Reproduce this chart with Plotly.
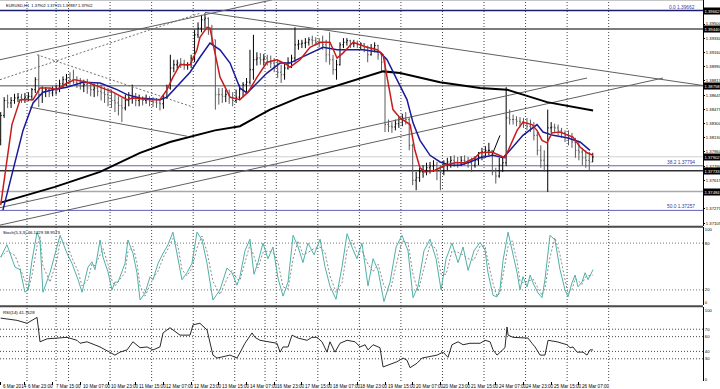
import plotly.graph_objects as go

# ---------------- data (hour index from 6 Mar 07:00, EURUSD H1) ----------------
bar_time = list(range(2, 346, 2))  # one bar per 2 hours
bar_high = [1.3844,1.3862,1.3865,1.3862,1.3866,1.3867,1.3866,1.3867,1.3868,1.3873,
            1.3886,1.3913,1.3875,1.3874,1.3873,1.3875,1.3877,1.3883,1.3887,1.3890,
            1.3892,1.3895,1.3887,1.3885,1.3883,1.3884,1.3880,1.3878,1.3879,1.3877,
            1.3874,1.3873,1.3871,1.3867,1.3863,1.3861,1.3865,1.3868,1.3877,1.3867,
            1.3865,1.3863,1.3865,1.3863,1.3862,1.3861,1.3860,1.3865,1.3877,1.3913,
            1.3907,1.3907,1.3909,1.3907,1.3904,1.3913,1.3943,1.3952,1.3961,1.3963,
            1.3958,1.3949,1.3931,1.3873,1.3873,1.3871,1.3871,1.3868,1.3871,1.3877,
            1.3880,1.3885,1.3919,1.3937,1.3916,1.3915,1.3914,1.3913,1.3912,1.3909,
            1.3907,1.3901,1.3904,1.3910,1.3913,1.3946,1.3931,1.3931,1.3933,1.3934,
            1.3936,1.3934,1.3933,1.3936,1.3931,1.3940,1.3913,1.3907,1.3928,1.3933,
            1.3933,1.3931,1.3931,1.3930,1.3928,1.3927,1.3924,1.3926,1.3928,1.3925,
            1.3916,1.3910,1.3835,1.3832,1.3835,1.3838,1.3842,1.3844,1.3837,1.3806,
            1.3772,1.3777,1.3780,1.3783,1.3784,1.3786,1.3784,1.3780,1.3786,1.3789,
            1.3791,1.3792,1.3790,1.3791,1.3792,1.3790,1.3789,1.3791,1.3796,1.3801,
            1.3803,1.3807,1.3798,1.3777,1.3789,1.3789,1.3874,1.3847,1.3841,1.3839,
            1.3838,1.3837,1.3837,1.3835,1.3832,1.3820,1.3804,1.3798,1.3847,1.3832,
            1.3830,1.3829,1.3825,1.3822,1.3822,1.3819,1.3813,1.3808,1.3801,1.3798,
            1.3796,1.3795]
bar_low = [1.3804,1.3837,1.3849,1.3849,1.3854,1.3856,1.3855,1.3855,1.3857,1.3858,
           1.3867,1.3850,1.3855,1.3862,1.3862,1.3863,1.3865,1.3868,1.3873,1.3875,
           1.3877,1.3878,1.3873,1.3871,1.3868,1.3866,1.3863,1.3862,1.3863,1.3858,
           1.3855,1.3851,1.3849,1.3844,1.3840,1.3832,1.3846,1.3851,1.3854,1.3851,
           1.3851,1.3852,1.3854,1.3851,1.3850,1.3849,1.3846,1.3848,1.3860,1.3871,
           1.3892,1.3895,1.3897,1.3895,1.3895,1.3897,1.3904,1.3933,1.3940,1.3945,
           1.3937,1.3925,1.3847,1.3853,1.3855,1.3856,1.3854,1.3851,1.3855,1.3858,
           1.3862,1.3867,1.3877,1.3883,1.3900,1.3901,1.3900,1.3900,1.3897,1.3892,
           1.3885,1.3879,1.3883,1.3895,1.3897,1.3904,1.3919,1.3921,1.3921,1.3924,
           1.3925,1.3924,1.3922,1.3919,1.3904,1.3901,1.3889,1.3883,1.3900,1.3921,
           1.3924,1.3921,1.3922,1.3921,1.3919,1.3916,1.3904,1.3912,1.3916,1.3907,
           1.3892,1.3820,1.3820,1.3819,1.3822,1.3825,1.3827,1.3829,1.3798,1.3756,
           1.3750,1.3760,1.3765,1.3768,1.3770,1.3772,1.3762,1.3750,1.3768,1.3774,
           1.3777,1.3778,1.3777,1.3779,1.3780,1.3777,1.3772,1.3777,1.3780,1.3786,
           1.3789,1.3792,1.3768,1.3758,1.3765,1.3772,1.3779,1.3829,1.3829,1.3827,
           1.3826,1.3825,1.3822,1.3820,1.3810,1.3792,1.3777,1.3772,1.3748,1.3819,
           1.3819,1.3816,1.3813,1.3808,1.3804,1.3801,1.3789,1.3786,1.3780,1.3777,
           1.3774,1.3784]
bar_close = [1.3840,1.3858,1.3855,1.3858,1.3861,1.3862,1.3860,1.3862,1.3863,1.3871,
             1.3883,1.3865,1.3868,1.3871,1.3867,1.3871,1.3873,1.3878,1.3883,1.3885,
             1.3883,1.3880,1.3878,1.3875,1.3877,1.3873,1.3871,1.3873,1.3869,1.3867,
             1.3865,1.3861,1.3858,1.3855,1.3852,1.3849,1.3858,1.3861,1.3862,1.3858,
             1.3860,1.3858,1.3860,1.3857,1.3856,1.3855,1.3854,1.3862,1.3873,1.3897,
             1.3901,1.3903,1.3902,1.3900,1.3901,1.3909,1.3937,1.3945,1.3955,1.3957,
             1.3945,1.3931,1.3865,1.3865,1.3863,1.3865,1.3861,1.3858,1.3862,1.3871,
             1.3877,1.3880,1.3895,1.3907,1.3909,1.3907,1.3909,1.3904,1.3903,1.3900,
             1.3892,1.3889,1.3897,1.3904,1.3909,1.3925,1.3926,1.3927,1.3928,1.3931,
             1.3930,1.3928,1.3927,1.3925,1.3913,1.3907,1.3895,1.3901,1.3925,1.3928,
             1.3930,1.3926,1.3927,1.3925,1.3926,1.3922,1.3913,1.3921,1.3924,1.3913,
             1.3904,1.3829,1.3827,1.3826,1.3830,1.3835,1.3837,1.3835,1.3804,1.3762,
             1.3765,1.3772,1.3774,1.3777,1.3779,1.3780,1.3774,1.3772,1.3780,1.3784,
             1.3786,1.3784,1.3783,1.3786,1.3785,1.3783,1.3780,1.3786,1.3790,1.3796,
             1.3798,1.3798,1.3772,1.3767,1.3780,1.3783,1.3837,1.3835,1.3835,1.3833,
             1.3832,1.3830,1.3827,1.3826,1.3816,1.3798,1.3786,1.3780,1.3825,1.3826,
             1.3825,1.3822,1.3819,1.3816,1.3813,1.3808,1.3798,1.3796,1.3789,1.3786,
             1.3784,1.3790]
first_open = 1.3810

red_t = [2,8.5,13.2,20.7,24.7,30.5,34.5,40.3,44.9,51.9,
         59.4,66.9,75.0,78.4,88.3,94.0,98.1,101.5,105.6,111.4,
         115.4,117.1,121.2,122.9,124.6,128.7,134.5,140.2,144.9,150.1,
         155.8,161.6,167.4,169.1,174.9,180.7,186.5,192.2,196.3,199.7,
         205.5,213.6,219.4,222.9,225.2,228.6,232.7,238.5,241.3,244.2,
         247.1,252.9,258.7,264.5,270.2,276.0,278.9,285.8,293.3,296.2,
         300.3,303.7,308.9,311.8,314.7,317.6,320.5,325.1,332.6,336.7,
         340.7,344.2]
red_v = [1.3732,1.3829,1.3859,1.3859,1.3873,1.3873,1.3871,1.3879,1.3883,1.3880,
         1.3874,1.3868,1.3859,1.3861,1.3859,1.3859,1.3871,1.3886,1.3901,1.3901,
         1.3919,1.3934,1.3946,1.3945,1.3927,1.3886,1.3862,1.3859,1.3868,1.3886,
         1.3904,1.3907,1.3901,1.3898,1.3907,1.3922,1.3928,1.3928,1.3909,1.3915,
         1.3928,1.3922,1.3919,1.3913,1.3886,1.3847,1.3837,1.3829,1.3798,1.3777,
         1.3772,1.3774,1.3780,1.3783,1.3783,1.3789,1.3795,1.3796,1.3789,1.3802,
         1.3822,1.3832,1.3829,1.3822,1.3810,1.3807,1.3819,1.3820,1.3814,1.3802,
         1.3795,1.3792]
blue_t = [3.3,14.9,20.7,26.4,32.2,40.3,49.5,59.4,69.2,75.0,
          82.5,94.0,98.1,105.6,111.4,117.1,122.9,128.7,134.5,140.2,
          144.3,150.1,155.8,163.4,169.1,174.9,180.7,188.2,196.3,203.8,
          211.3,221.1,225.2,230.9,236.7,240.2,244.2,250.0,255.8,261.6,
          267.3,273.1,278.9,286.4,292.2,296.2,303.7,311.8,315.3,321.1,
          329.1,336.7,342.4]
blue_v = [1.3726,1.3822,1.3855,1.3868,1.3871,1.3874,1.3880,1.3879,1.3871,1.3865,
          1.3861,1.3859,1.3862,1.3879,1.3892,1.3910,1.3927,1.3919,1.3903,1.3873,
          1.3867,1.3879,1.3891,1.3903,1.3903,1.3909,1.3915,1.3922,1.3919,1.3919,
          1.3919,1.3916,1.3907,1.3883,1.3859,1.3831,1.3810,1.3792,1.3784,1.3780,
          1.3780,1.3784,1.3789,1.3792,1.3789,1.3798,1.3816,1.3829,1.3820,1.3816,
          1.3813,1.3808,1.3798]
ma200_t = [2,17.2,33.4,59.4,82.5,99.8,113.1,125.8,140.2,157.6,
           174.9,198.0,222.9,232.7,255.8,278.9,294.5,303.7,317.6,344.2]
ma200_v = [1.3735,1.3744,1.3754,1.3772,1.3795,1.3808,1.3815,1.3822,1.3827,1.3847,
           1.3862,1.3877,1.3893,1.3891,1.3880,1.3873,1.3871,1.3865,1.3856,1.3846]

stoch_t = [2,5.6,10.3,13.2,16.0,17.8,20.1,23.0,24.7,26.4,
           30.5,34.5,36.3,40.3,43.2,46.7,49.0,52.4,54.7,56.5,
           59.4,61.1,64.0,66.3,68.0,69.8,73.8,75.5,78.4,80.7,
           82.5,85.4,88.3,90.0,92.9,95.8,98.7,101.5,104.4,106.7,
           109.6,112.5,115.4,118.3,121.2,124.6,128.7,132.7,135.6,138.5,
           140.2,
           143.1,146.0,148.3,150.6,153.5,156.4,159.3,162.2,165.1,168.0,
           170.9,173.8,176.6,179.5,183.0,186.5,189.3,192.2,195.7,199.2,
           202.1,204.9,207.8,210.7,214.2,217.1,220.0,223.4,226.9,230.4,
           233.8,237.3,240.2,243.1,246.5,250.0,253.5,256.4,259.3,262.7,
           266.2,269.1,272.0,275.4,
           278.9,281.8,283.5,286.4,288.7,290.4,292.2,295.1,297.4,300.3,
           302.0,303.7,306.1,307.8,309.5,312.4,314.7,316.4,319.3,322.2,
           325.1,328.0,329.7,332.0,333.8,335.5,337.8,339.6,341.3,344.2]
stoch_k = [62,78,49,46,17,20,58,94,84,17,
           42,74,90,67,54,33,17,49,56,46,
           84,62,43,20,30,30,54,84,67,42,
           7,16,37,33,54,67,78,94,58,33,
           42,54,94,84,54,7,20,48,42,26,
           37,
           70,85,40,55,80,60,75,35,12,30,
           90,75,55,80,65,85,50,25,8,50,
           92,75,60,80,25,60,45,5,30,75,
           90,70,10,25,70,85,60,20,60,80,
           55,75,45,70,
           81,71,42,13,11,20,58,94,71,42,
           20,37,24,39,29,16,10,33,90,84,
           46,20,11,29,39,24,30,42,33,46]
stoch_d = [62,70,64,48,32,19,39,76,89,51,
           30,58,82,79,61,44,25,33,53,51,
           65,73,53,32,25,30,42,69,76,55,
           25,12,27,35,44,61,73,86,76,46,
           38,48,74,89,69,31,14,34,45,34,
           32,
           54,78,63,48,68,70,68,55,24,21,
           60,83,65,68,73,75,68,38,17,29,
           71,84,68,70,53,43,53,25,18,53,
           83,80,40,18,48,78,73,40,40,70,
           68,65,60,58,
           76,76,57,28,12,16,39,76,83,57,
           31,29,31,32,34,23,13,22,62,87,
           65,33,16,20,34,32,27,36,38,39]

rsi_t = [2,11.4,17.2,23.0,24.7,28.8,40.3,46.1,47.8,51.9,
         59.4,65.1,68.0,70.9,75.0,78.4,82.5,86.5,90.0,94.0,
         95.8,99.8,105.6,111.4,113.1,117.1,121.2,124.6,127.0,134.5,
         138.5,140.2,143.1,147.2,148.9,151.8,157.6,161.6,163.4,165.1,
         168.0,170.3,173.8,179.0,181.8,184.7,187.6,190.5,192.2,195.1,
         198.0,202.1,206.7,209.6,212.5,214.2,217.1,221.1,222.9,226.9,
         230.9,234.4,236.7,238.5,242.5,245.4,248.3,254.1,257.5,260.4,
         262.7,266.2,269.1,273.1,278.9,281.8,284.7,286.4,288.7,290.4,
         293.3,294.5,295.1,298.0,303.7,306.6,308.9,310.7,313.6,316.4,
         318.2,323.4,329.1,330.9,332.6,334.9,338.4,340.7,342.4,344.2]
rsi_v = [85,82,78,86,53,57,59,55,51,53,
         46,39,35,39,42,53,45,46,42,46,
         65,72,62,62,76,78,69,35,31,35,
         31,38,51,65,59,55,53,51,39,46,
         46,62,58,55,59,59,53,39,53,39,
         51,55,53,46,49,42,49,45,19,22,
         26,31,28,18,24,31,32,35,39,32,
         49,53,49,51,51,55,53,42,35,39,
         45,73,62,59,59,58,51,46,35,35,
         55,53,49,45,46,39,39,35,42,42]

date_ticks = [1.7,16,32,48,64,80,96,112,128,144,160,176,192,208,224,240,256,272,288,304,320,336]
date_labels = ["6 Mar 2014","6 Mar 23:00","7 Mar 15:00","10 Mar 07:00","10 Mar 23:00","11 Mar 15:00",
               "12 Mar 07:00","12 Mar 23:00","13 Mar 15:00","14 Mar 07:00","16 Mar 23:00","17 Mar 15:00",
               "18 Mar 07:00","18 Mar 23:00","19 Mar 15:00","20 Mar 07:00","20 Mar 23:00","21 Mar 15:00",
               "24 Mar 07:00","24 Mar 23:00","25 Mar 15:00","26 Mar 07:00"]
grid_times = [17.2,41.2,65.2,89.2,113.2,137.2,161.2,185.2,209.2,233.2,257.2,281.2,305.2,329.2,353.2,34.0,154.7]

price_ticks = [1.39500,1.39330,1.39160,1.38990,1.38815,1.38645,1.38475,1.38300,1.38130,
               1.37960,1.37790,1.37615,1.37275,1.37105]
fib_levels = [1.39662, 1.37794, 1.37257]
fib_names = ["0.0", "38.2", "50.0"]
hline_levels = [1.39440, 1.38758, 1.37733, 1.37484]
hline_colors = ["#505050", "#8a8a8a", "#303030", "#a8a8a8"]
bid_price = 1.37902
marked_prices = [1.39662, 1.39440, 1.38758, 1.37902, 1.37733, 1.37484]

# drawn trend lines: start time, start price, end time, end price, style
tl_t0 = [1.6, 1.6, 23.0, 18.9, 120.0, 1.6, 1.6, 285.8]
tl_p0 = [1.3907, 1.3883, 1.3913, 1.3850, 1.3964, 1.3729, 1.3708, 1.3792]
tl_t1 = [158.7, 117.1, 113.1, 109.6, 417.5, 340.7, 384.6, 290.4]
tl_p1 = [1.3979, 1.3963, 1.3850, 1.3815, 1.3873, 1.3885, 1.3885, 1.3816]
tl_dash = ["solid", "dot", "dot", "solid", "solid", "solid", "solid", "solid"]
tl_color = ["#606060", "#707070", "#707070", "#606060", "#606060", "#606060", "#606060", "#000000"]

stoch_levels = [80, 20]
rsi_levels = [70, 60, 40, 30]

# ---------------- figure ----------------
X0, X1 = 1.6, 407.7
P_RANGE = [1.37069, 1.39789]
P_DOM = [0.4068, 1.0]
S_DOM = [0.1982, 0.4029]
R_DOM = [0.0, 0.1942]
FONT = "Liberation Sans"
AX_FONT = 4.2

bar_open = [first_open] + bar_close[:-1]

fig = go.Figure()

# trend lines
for i in range(len(tl_t0)):
    fig.add_trace(go.Scatter(x=[tl_t0[i], tl_t1[i]], y=[tl_p0[i], tl_p1[i]], mode="lines",
                             line=dict(color=tl_color[i], width=1, dash="2px,2px" if tl_dash[i] == "dot" else "solid"),
                             xaxis="x", yaxis="y", hoverinfo="skip"))

fig.add_trace(go.Ohlc(x=bar_time, open=bar_open, high=bar_high, low=bar_low, close=bar_close,
                      increasing=dict(line=dict(color="#000000", width=1)),
                      decreasing=dict(line=dict(color="#5a5a5a", width=1)),
                      tickwidth=0.3, xaxis="x", yaxis="y", hoverinfo="skip"))

fig.add_trace(go.Scatter(x=ma200_t, y=ma200_v, mode="lines", line=dict(color="#000000", width=2),
                         xaxis="x", yaxis="y", hoverinfo="skip"))
fig.add_trace(go.Scatter(x=blue_t, y=blue_v, mode="lines", line=dict(color="#1a1a9a", width=1.5),
                         xaxis="x", yaxis="y", hoverinfo="skip"))
fig.add_trace(go.Scatter(x=red_t, y=red_v, mode="lines", line=dict(color="#c81c1c", width=1.5),
                         xaxis="x", yaxis="y", hoverinfo="skip"))

fig.add_trace(go.Scatter(x=stoch_t, y=stoch_d, mode="lines", line=dict(color="#8c8c8c", width=1, dash="2px,2px"),
                         xaxis="x2", yaxis="y2", hoverinfo="skip"))
fig.add_trace(go.Scatter(x=stoch_t, y=stoch_k, mode="lines", line=dict(color="#4fb0a8", width=1),
                         xaxis="x2", yaxis="y2", hoverinfo="skip"))

fig.add_trace(go.Scatter(x=rsi_t, y=rsi_v, mode="lines", line=dict(color="#2a2a2a", width=1),
                         xaxis="x3", yaxis="y3", hoverinfo="skip"))

shapes = []
for t in grid_times:
    shapes.append(dict(type="line", xref="x", yref="paper", x0=t, x1=t, y0=0, y1=1,
                       line=dict(color="#444444", width=1, dash="1px,2px"), layer="below"))
for v in stoch_levels:
    shapes.append(dict(type="line", xref="paper", yref="y2", x0=0, x1=1, y0=v, y1=v,
                       line=dict(color="#777777", width=1, dash="1px,2px"), layer="below"))
for v in rsi_levels:
    shapes.append(dict(type="line", xref="paper", yref="y3", x0=0, x1=1, y0=v, y1=v,
                       line=dict(color="#444444", width=1, dash="1px,2px"), layer="below"))
for v, c in zip(hline_levels, hline_colors):
    shapes.append(dict(type="line", xref="paper", yref="y", x0=0, x1=1, y0=v, y1=v,
                       line=dict(color=c, width=1.5), layer="below"))
shapes.append(dict(type="line", xref="paper", yref="y", x0=0, x1=1, y0=bid_price, y1=bid_price,
                   line=dict(color="#cfcfcf", width=1), layer="below"))
for i, v in enumerate(fib_levels):
    shapes.append(dict(type="line", xref="paper", yref="y", x0=0, x1=1, y0=v, y1=v,
                       line=dict(color="#1c1c6c" if i == 0 else "#6262b4", width=1.5 if i == 0 else 1),
                       layer="below"))
# pane separators and frame
sep1 = (P_DOM[0] + S_DOM[1]) / 2
sep2 = (S_DOM[0] + R_DOM[1]) / 2
for yy in (sep1, sep2):
    shapes.append(dict(type="line", xref="paper", yref="paper", x0=0, x1=1, y0=yy, y1=yy,
                       line=dict(color="#4a4a4a", width=2)))
shapes.append(dict(type="line", xref="paper", yref="paper", x0=0, x1=1, y0=1, y1=1,
                   line=dict(color="#909090", width=1)))

annotations = []
annotations.append(dict(xref="paper", yref="paper", x=0.006, y=0.998, xanchor="left", yanchor="top",
                        text="EURUSD,H1  1.37902 1.37915 1.37887 1.37902", showarrow=False,
                        font=dict(family=FONT, size=4, color="#000000")))
annotations.append(dict(xref="paper", yref="paper", x=0.002, y=S_DOM[1] - 0.002, xanchor="left", yanchor="top",
                        text="Stoch(5,3,3) 46.1229 38.9573", showarrow=False,
                        font=dict(family=FONT, size=4.3, color="#000000")))
annotations.append(dict(xref="paper", yref="paper", x=0.002, y=R_DOM[1] - 0.002, xanchor="left", yanchor="top",
                        text="RSI(14) 41.7628", showarrow=False,
                        font=dict(family=FONT, size=4.3, color="#000000")))
for name, v in zip(fib_names, fib_levels):
    annotations.append(dict(xref="paper", yref="y", x=0.992, y=v, xanchor="right", yanchor="bottom",
                            text=f"{name} {v:.5f}", showarrow=False, yshift=-1,
                            font=dict(family=FONT, size=4.8, color="#3a3aa0")))
for v in marked_prices:
    annotations.append(dict(xref="paper", yref="y", x=1, y=v, xanchor="left", yanchor="middle", xshift=0,
                            text=f"{v:.5f}", showarrow=False, bgcolor="#000000", borderpad=0.5,
                            font=dict(family=FONT, size=AX_FONT, color="#ffffff")))
# time labels, left-aligned at their tick like the terminal draws them
for t, lab in zip(date_ticks, date_labels):
    annotations.append(dict(xref="x3", yref="paper", x=t, y=0, xanchor="left", yanchor="top",
                            yshift=-1, xshift=1, text=lab, showarrow=False,
                            font=dict(family=FONT, size=4.6, color="#000000")))

fig.update_layout(
    width=720, height=389, margin=dict(l=0, r=17, t=0, b=8),
    paper_bgcolor="#ffffff", plot_bgcolor="#ffffff", showlegend=False,
    xaxis=dict(domain=[0, 1], range=[X0, X1], anchor="y", showticklabels=False, showgrid=False,
               zeroline=False, ticks="", rangeslider=dict(visible=False), fixedrange=True),
    xaxis2=dict(domain=[0, 1], range=[X0, X1], anchor="y2", matches="x", showticklabels=False,
                showgrid=False, zeroline=False, ticks=""),
    xaxis3=dict(domain=[0, 1], range=[X0, X1], anchor="y3", matches="x", tickmode="array",
                tickvals=date_ticks, showticklabels=False,
                ticks="outside", ticklen=3, tickcolor="#000000", showgrid=False, zeroline=False,
                showline=False, automargin=False),
    yaxis=dict(domain=P_DOM, range=P_RANGE, side="right", tickmode="array", tickvals=price_ticks,
               ticktext=[f"{v:.5f}" for v in price_ticks], ticks="outside", ticklen=1, tickcolor="#000000",
               showgrid=False, zeroline=False, showline=True, linecolor="#000000", linewidth=1,
               tickfont=dict(family=FONT, size=AX_FONT, color="#000000"), automargin=False),
    yaxis2=dict(domain=S_DOM, range=[0, 100], side="right", anchor="x2", tickmode="array",
                tickvals=[98, 80, 20, 3.5], ticktext=["100", "80", "20", "0"], ticks="",
                showgrid=False, zeroline=False, showline=True, linecolor="#000000", linewidth=1,
                tickfont=dict(family=FONT, size=AX_FONT, color="#000000"), automargin=False),
    yaxis3=dict(domain=R_DOM, range=[0, 100], side="right", anchor="x3", tickmode="array",
                tickvals=[95, 70, 60, 40, 30, 2], ticktext=["100", "70", "60", "40", "30", "0"], ticks="",
                showgrid=False, zeroline=False, showline=True, linecolor="#000000", linewidth=1,
                tickfont=dict(family=FONT, size=AX_FONT, color="#000000"), automargin=False),
    shapes=shapes, annotations=annotations,
)

fig.write_html("out.html", config={"displayModeBar": False},
               post_script="document.body.style.margin='0px';document.body.style.padding='0px';")
